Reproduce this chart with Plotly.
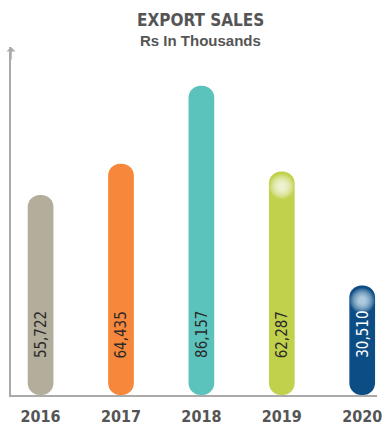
import plotly.graph_objects as go

years = ["2016", "2017", "2018", "2019", "2020"]
sales = [55722, 64435, 86157, 62287, 30510]
labels = ["55,722", "64,435", "86,157", "62,287", "30,510"]
colors = ["#b3ad9b", "#f7873a", "#5cc3bc", "#c2d14c", "#0d4d85"]
text_colors = ["#2a2a2a", "#2a2a2a", "#2a2a2a", "#2a2a2a", "#ffffff"]
glow_years = ["2019", "2020"]
glow_values = [62287, 30510]
glow_colors = ["white", "#e6fbff"]

YMAX = 96950
BW = 0.32
COND = "Liberation Sans Narrow, DejaVu Sans Condensed, Roboto Condensed, sans-serif"

fig = go.Figure()
fig.add_trace(go.Bar(
    x=list(range(len(years))), y=sales, base=[0] * len(sales),
    width=BW, marker=dict(color=colors, cornerradius="50%", line=dict(width=0)),
    hoverinfo="skip", showlegend=False))

# soft highlight glows near the tops of the last two bars
gx = [years.index(g) for g in glow_years]
for size in [25, 23, 21, 19, 17, 15, 13, 11, 9, 7]:
    fig.add_trace(go.Scatter(
        x=gx, y=[v - 4200 for v in glow_values], mode="markers",
        marker=dict(size=size, color=glow_colors, opacity=0.13, line=dict(width=0)),
        hoverinfo="skip", showlegend=False))

for i, (lab, tc) in enumerate(zip(labels, text_colors)):
    fig.add_annotation(x=i, y=0, xref="x", yref="y", text=lab, textangle=-90,
                       showarrow=False, yanchor="bottom", yshift=35,
                       font=dict(family=COND, size=15, color=tc))

# title
fig.add_annotation(xref="paper", yref="paper", x=0.518, y=1, yshift=39, text="<b>EXPORT SALES</b>",
                   showarrow=False, font=dict(family=COND, size=17, color="#555555"))
fig.add_annotation(xref="paper", yref="paper", x=0.518, y=1, yshift=17, text="<b>Rs In Thousands</b>",
                   showarrow=False, font=dict(family="Liberation Sans, Arial, sans-serif", size=15, color="#555555"))
# axis arrow
fig.add_annotation(xref="paper", yref="paper", x=0, y=1, ax=0, ay=14, text="",
                   showarrow=True, arrowhead=1, arrowsize=1, arrowwidth=1.5, arrowcolor="#aaaaaa")

fig.update_layout(
    width=382, height=426, margin=dict(l=11, r=0, t=47, b=29),
    paper_bgcolor="white", plot_bgcolor="white", barmode="overlay",
    xaxis=dict(range=[-0.368, 4.184], showline=True, linecolor="#aaaaaa", linewidth=2,
               showgrid=False, zeroline=False, ticks="", ticklabeloverflow="allow",
               ticklabelstandoff=6,
               tickmode="array", tickvals=list(range(len(years))),
               ticktext=["<b>" + y + "</b>" for y in years],
               tickfont=dict(family=COND, size=16, color="#555555")),
    yaxis=dict(range=[0, YMAX], showline=True, linecolor="#aaaaaa", linewidth=2, showgrid=False,
               zeroline=False, showticklabels=False, ticks=""),
)
fig.write_html("out.html")
